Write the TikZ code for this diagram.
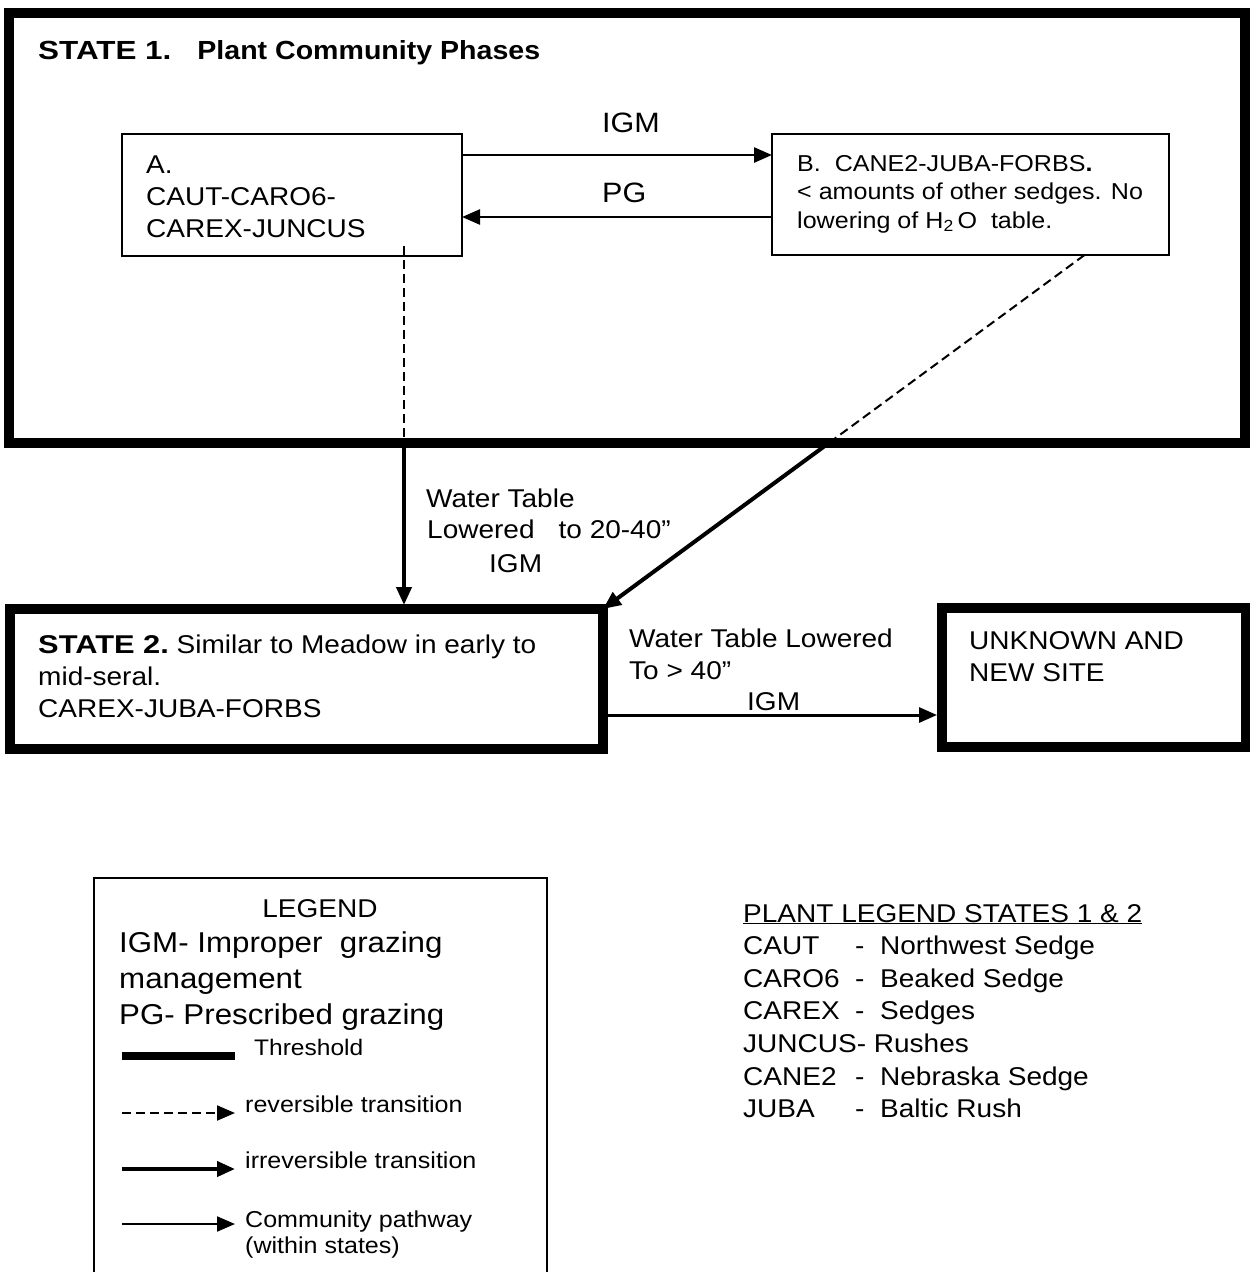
\documentclass[tikz,border=0pt]{standalone}
\usepackage{fontspec}
\setmainfont{Liberation Sans}[FakeStretch=1.09]
\usetikzlibrary{arrows.meta,calc}

\begin{document}
\begin{tikzpicture}[x=1pt,y=-1pt,
    box/.style={draw,line width=#1,inner sep=0pt,outer sep=0pt,anchor=north west},
    box/.default=2pt,
    txt/.style={anchor=base west,inner sep=0pt,font=\fontsize{25.7}{32}\selectfont},
    tip/.style={-{Triangle[length=18pt,width=15pt]}},
    revline/.style={line width=2pt,dash pattern=on 9pt off 5pt}]
      \useasboundingbox (0,0) rectangle (1250,1272);

      \node[box=10pt,minimum width=1236pt,minimum height=430pt] (state1) at (9,13) {};
      \node[box,minimum width=340pt,minimum height=122pt] (phaseA) at (122,134) {};
      \node[box,minimum width=397pt,minimum height=121pt] (phaseB) at (772,134) {};
      \node[box=10pt,minimum width=593pt,minimum height=140pt] (state2) at (10,609) {};
      \node[box=10pt,minimum width=304pt,minimum height=139pt] (unknown) at (942,608) {};
      \node[box,minimum width=453pt,minimum height=420pt] (legend) at (94,878) {};

      \node[txt,font=\fontsize{26.2}{32}\selectfont\bfseries] (title1) at (38,59)
        {\scalebox{1.1}[1]{STATE 1.}\hspace{26pt}Plant Community Phases};
      \node[txt] (textA) at (146,173) {
        \begin{tabular}[t]{@{}l@{}}
          A. \\
          CAUT-CARO6- \\
          CAREX-JUNCUS \\
        \end{tabular}
      };
      \node[txt,font=\fontsize{23}{28.5}\selectfont] (textB) at (797,171) {
        \begin{tabular}[t]{@{}l@{}}
          B.~ CANE2-JUBA-FORBS{\bfseries .} \\
          < amounts of other sedges. No \\
          lowering of H\textsubscript{2}\,O~ table. \\
        \end{tabular}
      };
      \node[txt] (text2) at (38,653) {
        \begin{tabular}[t]{@{}l@{}}
          \scalebox{1.1}[1]{\bfseries STATE 2.} Similar to Meadow in early to \\
          mid-seral. \\
          CAREX-JUBA-FORBS \\
        \end{tabular}
      };
      \node[txt] (textU) at (969,649) {
        \begin{tabular}[t]{@{}l@{}}
          UNKNOWN AND \\
          NEW SITE \\
        \end{tabular}
      };

      % pathways within state 1
      \draw[line width=2.5pt,tip] ([yshift=40pt]phaseA.east) -- ([yshift=40pt]phaseA.east -| phaseB.west);
      \draw[line width=2.5pt,tip] ([yshift=-22pt]phaseA.east -| phaseB.west) -- ([yshift=-22pt]phaseA.east);
      \node[txt,font=\fontsize{28}{32}\selectfont] (lblIGM) at (602,132) {IGM};
      \node[txt,font=\fontsize{28}{32}\selectfont] (lblPG) at (602,202) {PG};

      % transitions to state 2
      \coordinate (aStart) at ([xshift=112pt,yshift=10pt]phaseA.south);
      \coordinate (aCross) at (aStart |- state1.south);
      \coordinate (aEnd) at (aCross |- state2.north);
      \draw[revline] (aStart) -- (aCross);
      \draw[line width=4pt,tip] (aCross) -- ([yshift=4pt]aEnd);

      \coordinate (bStart) at ([xshift=114pt]phaseB.south);
      \coordinate (bCross) at (intersection of bStart--state2.north east and state1.south west--state1.south east);
      \draw[revline] (bStart) -- (bCross);
      \draw[line width=4pt,tip] (bCross) -- (state2.north east);

      \node[txt] (wt1) at (426,507) {Water Table};
      \node[txt] (wt2) at (427,538) {Lowered\hspace{24pt}to 20-40”};
      \node[txt] (wt3) at (489,572) {IGM};

      % state 2 to unknown
      \draw[line width=3pt,tip,shorten >=5pt] ([yshift=-36pt]state2.east) -- ([yshift=-36pt]state2.east -| unknown.west);
      \node[txt] (wt4) at (629,647) {Water Table Lowered};
      \node[txt] (wt5) at (629,679) {To > 40”};
      \node[txt] (wt6) at (747,710) {IGM};

      % legend
      \node[txt,anchor=base] (lgTitle) at (320,917) {LEGEND};
      \node[txt,font=\fontsize{28.7}{36}\selectfont] (lgText) at (119,952) {
        \begin{tabular}[t]{@{}l@{}}
          IGM- Improper~ grazing \\
          management \\
          PG- Prescribed grazing \\
        \end{tabular}
      };
      \draw[line width=8pt] (122,1056) -- (235,1056);
      \node[txt,font=\fontsize{22.5}{26}\selectfont] (lgThres) at (254,1055) {Threshold};
      \draw[revline,tip] (122,1113) -- (235,1113);
      \node[txt,font=\fontsize{23}{26}\selectfont] (lgRev) at (245,1112) {reversible transition};
      \draw[line width=4pt,tip] (122,1169) -- (235,1169);
      \node[txt,font=\fontsize{23}{26}\selectfont] (lgIrr) at (245,1168) {irreversible transition};
      \draw[line width=2pt,tip] (122,1224) -- (235,1224);
      \node[txt,font=\fontsize{23}{26}\selectfont] (lgPath) at (245,1227) {
        \begin{tabular}[t]{@{}l@{}}
          Community pathway \\
          (within states) \\
        \end{tabular}
      };

      % plant legend
      \node[txt,font=\fontsize{25.7}{32.6}\selectfont] (plants) at (743,922) {
        \begin{tabular}[t]{@{}p{112pt}@{}p{25pt}@{}l@{}}
          \multicolumn{3}{@{}l@{}}{\underline{PLANT LEGEND STATES 1 \& 2}} \\
          CAUT & - & Northwest Sedge \\
          CARO6 & - & Beaked Sedge \\
          CAREX & - & Sedges \\
          \multicolumn{3}{@{}l@{}}{JUNCUS- Rushes} \\
          CANE2 & - & Nebraska Sedge \\
          JUBA & - & Baltic Rush \\
        \end{tabular}
      };
    \end{tikzpicture}
\end{document}
